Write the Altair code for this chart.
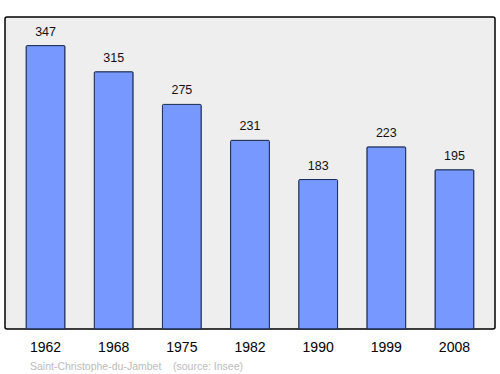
import altair as alt
import pandas as pd

years = ["1962", "1968", "1975", "1982", "1990", "1999", "2008"]
population = [347, 315, 275, 231, 183, 223, 195]
footer = "Saint-Christophe-du-Jambet\u00a0\u00a0\u00a0\u00a0(source: Insee)"

df = pd.DataFrame({"year": years, "pop": population})

x = alt.X("year:N", sort=years,
          scale=alt.Scale(paddingInner=0.43, paddingOuter=0.31),
          axis=alt.Axis(title=None, domain=False, ticks=False, labelFontSize=14,
                        labelFont="Liberation Sans", labelColor="black",
                        labelPadding=11, labelAngle=0))
y = alt.Y("pop:Q", scale=alt.Scale(domain=[0, 382], nice=False),
          axis=None)

base = alt.Chart(df)
bars = base.mark_bar(color="#7799ff", stroke="#1a2a50", strokeWidth=1,
                     cornerRadius=1).encode(x=x, y=y)
labels = base.mark_text(dy=-14, fontSize=12.5, font="Liberation Sans",
                        color="#111111").encode(x=x, y=y, text="pop:Q")

chart = (bars + labels).properties(
    width=490, height=312,
    padding={"left": 5, "top": 17, "right": 5, "bottom": 45},
    autosize=alt.AutoSizeParams(type="none"),
    title=alt.Title(footer, orient="bottom", anchor="start", dx=25, offset=8,
                    fontSize=10.5, font="Liberation Sans", fontWeight="normal",
                    color="#bbbbbb"),
).configure_view(stroke="black", strokeWidth=1.5, fill="#eeeeee", cornerRadius=2)

chart.save("out.html", embed_options={"renderer": "svg", "actions": False})
